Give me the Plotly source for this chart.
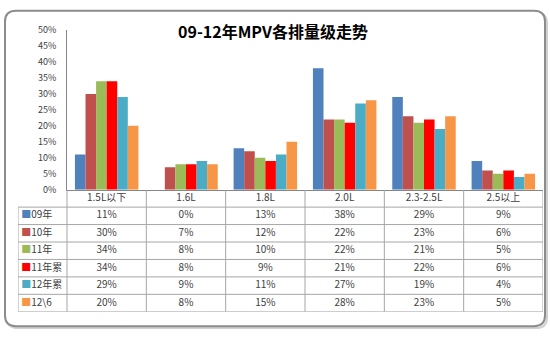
import plotly.graph_objects as go

# Displacement classes and yearly share (%) of MPV sales
categories = ["1.5L以下", "1.6L", "1.8L", "2.0L", "2.3-2.5L", "2.5以上"]
series_names = ["09年", "10年", "11年", "11年累", "12年累", "12\\6"]
share_09 = [11, 0, 13, 38, 29, 9]
share_10 = [30, 7, 12, 22, 23, 6]
share_11 = [34, 8, 10, 22, 21, 5]
share_11_cum = [34, 8, 9, 21, 22, 6]
share_12_cum = [29, 9, 11, 27, 19, 4]
share_12_jun = [20, 8, 15, 28, 23, 5]
series_values = [share_09, share_10, share_11, share_11_cum, share_12_cum, share_12_jun]
colors = ["#4F81BD", "#C0504D", "#9BBB59", "#FF0000", "#4BACC6", "#F79646"]
y_ticks = [0, 5, 10, 15, 20, 25, 30, 35, 40, 45, 50]
y_tick_labels = [f"{v}%" for v in y_ticks]

W, H = 550, 337


def px(x):
    return x / W


def py(y):
    return 1 - y / H


# pixel layout of chart + data table
plot_left, plot_right = 67, 543
table_left = 18
plot_top, plot_bottom = 24, 190
table_bottom = 317
col_w = (plot_right - plot_left) / len(categories)
x2_left = -0.5 - (plot_left - table_left) / col_w
n_rows = len(series_names) + 1

font_cjk = "Noto Sans CJK SC"
text_col = "#404040"
grid_col = "#A6A6A6"

fig = go.Figure()

idx = list(range(len(categories)))
for name, vals, c in zip(series_names, series_values, colors):
    fig.add_trace(go.Bar(x=idx, y=vals, name=name, marker=dict(color=c, line=dict(width=0)),
                         xaxis="x", yaxis="y", hoverinfo="skip"))

# data table text
tx, ty, tt = [], [], []
for j, cat in enumerate(categories):
    tx.append(j)
    ty.append(0.5)
    tt.append(cat)
for i, vals in enumerate(series_values):
    for j, v in enumerate(vals):
        tx.append(j)
        ty.append(i + 1.5)
        tt.append(f"{v}%")
fig.add_trace(go.Scatter(x=tx, y=ty, text=tt, mode="text", xaxis="x2", yaxis="y2",
                         textposition="middle center", hoverinfo="skip",
                         textfont=dict(family=font_cjk, size=10, color=text_col)))

# row labels with colour keys
lx = [x2_left + 0.04] * len(series_names)
ly = [i + 1.5 for i in range(len(series_names))]
lt = [f"<span style='color:{c}'>■</span>{n}" for n, c in zip(series_names, colors)]
fig.add_trace(go.Scatter(x=lx, y=ly, text=lt, mode="text", xaxis="x2", yaxis="y2",
                         textposition="middle right", hoverinfo="skip",
                         textfont=dict(family=font_cjk, size=10, color=text_col)))

shapes = []
# horizontal table rules
for k in range(1, n_rows + 1):
    shapes.append(dict(type="line", xref="x2", yref="y2", x0=x2_left, x1=5.5, y0=k, y1=k,
                       line=dict(color=grid_col, width=1)))
# vertical table rules
for j in range(len(categories) + 1):
    shapes.append(dict(type="line", xref="x2", yref="y2", x0=j - 0.5, x1=j - 0.5, y0=0, y1=n_rows,
                       line=dict(color=grid_col, width=1)))
shapes.append(dict(type="line", xref="x2", yref="y2", x0=x2_left, x1=x2_left, y0=1, y1=n_rows,
                   line=dict(color=grid_col, width=1)))


# rounded outer frame with soft shadow
def rounded(x0, y0, x1, y1, r):
    X0, X1 = px(x0), px(x1)
    Y0, Y1 = py(y0), py(y1)
    rx, ry = r / W, r / H
    return (f"M {X0 + rx},{Y0} L {X1 - rx},{Y0} Q {X1},{Y0} {X1},{Y0 - ry} "
            f"L {X1},{Y1 + ry} Q {X1},{Y1} {X1 - rx},{Y1} L {X0 + rx},{Y1} "
            f"Q {X0},{Y1} {X0},{Y1 + ry} L {X0},{Y0 - ry} Q {X0},{Y0} {X0 + rx},{Y0} Z")


shapes.append(dict(type="path", xref="paper", yref="paper", path=rounded(7, 6, 547, 334, 11),
                   line=dict(color="#D0D0D0", width=2), layer="below"))
shapes.append(dict(type="path", xref="paper", yref="paper", path=rounded(5, 4, 545, 332, 11),
                   line=dict(color="#8C8C8C", width=2), fillcolor="white", layer="below"))

fig.update_layout(
    width=W, height=H,
    margin=dict(l=0, r=0, t=0, b=0),
    paper_bgcolor="white", plot_bgcolor="rgba(0,0,0,0)",
    showlegend=False,
    barmode="group", bargap=0.2, bargroupgap=0,
    shapes=shapes,
    xaxis=dict(domain=[px(plot_left), px(plot_right)], range=[-0.5, 5.5], showticklabels=False,
               showgrid=False, zeroline=False, showline=True, linecolor="#868686", linewidth=1,
               anchor="y", fixedrange=True),
    yaxis=dict(domain=[py(plot_bottom), py(plot_top)], range=[0, 50], tickmode="array",
               tickvals=y_ticks, ticktext=y_tick_labels,
               showgrid=False, zeroline=False, showline=True, linecolor="#868686",
               linewidth=1, ticks="outside", ticklen=8, tickcolor="rgba(0,0,0,0)", anchor="x",
               tickfont=dict(family=font_cjk, size=9, color=text_col), fixedrange=True),
    xaxis2=dict(domain=[px(table_left), px(plot_right)], range=[x2_left, 5.5], visible=False,
                anchor="y2", fixedrange=True),
    yaxis2=dict(domain=[py(table_bottom), py(plot_bottom)], range=[n_rows, 0], visible=False,
                anchor="x2", fixedrange=True),
    annotations=[dict(text="<b>09-12年MPV各排量级走势</b>", xref="paper", yref="paper",
                      x=px(273), y=py(25), xanchor="center", yanchor="middle", showarrow=False,
                      font=dict(family=font_cjk, size=16, color="#000000"))],
)

fig.write_html("out.html")
